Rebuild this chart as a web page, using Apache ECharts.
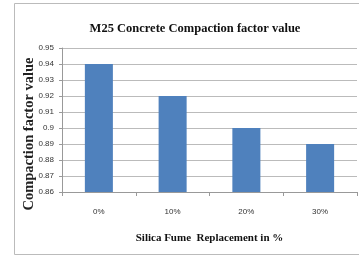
<!DOCTYPE html>
<html><head><meta charset="utf-8">
<script src="https://cdn.jsdelivr.net/npm/echarts@6/dist/echarts.min.js"></script>
<style>html,body{margin:0;padding:0;background:#fff}#c{width:359px;height:258px}</style>
</head><body><div id="c"></div>
<script>
const categories = ['0%', '10%', '20%', '30%'];
const values = [0.94, 0.92, 0.90, 0.89];
const yTicks = [0.86, 0.87, 0.88, 0.89, 0.9, 0.91, 0.92, 0.93, 0.94, 0.95];
const chart = echarts.init(document.getElementById('c'), null, {renderer: 'canvas'});
chart.setOption({
  animation: false,
  title: {
    text: 'M25 Concrete Compaction factor value',
    left: 190, top: 17, textAlign: 'center',
    textStyle: {fontFamily: 'Liberation Serif', fontWeight: 'bold', fontSize: 12.5, color: '#111'}
  },
  graphic: [{
    type: 'rect', shape: {x: 14.5, y: 3.5, width: 360, height: 251},
    style: {fill: 'none', stroke: '#bbb', lineWidth: 1}, silent: true
  }, {
    type: 'text', x: 29, y: 134, rotation: Math.PI / 2,
    style: {text: 'Compaction factor value', fontFamily: 'Liberation Serif', fontWeight: 'bold',
      fontSize: 14.5, fill: '#222', align: 'center', verticalAlign: 'middle'}, silent: true
  }],
  grid: {left: 62, right: 2, top: 48, bottom: 66},
  xAxis: {
    type: 'category', data: categories,
    axisLine: {lineStyle: {color: '#999'}},
    axisTick: {show: true, alignWithLabel: false, lineStyle: {color: '#999'}, length: 4},
    axisLabel: {fontFamily: 'Liberation Sans Narrow, Liberation Sans', fontSize: 8, color: '#333', margin: 16},
    name: 'Silica Fume  Replacement in %', nameLocation: 'middle', nameGap: 41,
    nameTextStyle: {fontFamily: 'Liberation Serif', fontWeight: 'bold', fontSize: 11, color: '#111'}
  },
  yAxis: {
    type: 'value', min: 0.86, max: 0.95, interval: 0.01,
    axisLine: {show: true, lineStyle: {color: '#999'}},
    axisTick: {show: true, length: 3, lineStyle: {color: '#999'}},
    splitLine: {lineStyle: {color: '#bbb'}},
    axisLabel: {fontFamily: 'Liberation Sans Narrow, Liberation Sans', fontSize: 8, color: '#333', margin: 8,
      formatter: v => { const r = Math.round(v * 100) / 100; return yTicks.includes(r) ? String(r) : ''; }}
  },
  series: [{
    type: 'bar', data: values, barWidth: '38%',
    itemStyle: {color: '#4F81BD'}
  }]
});
</script></body></html>
